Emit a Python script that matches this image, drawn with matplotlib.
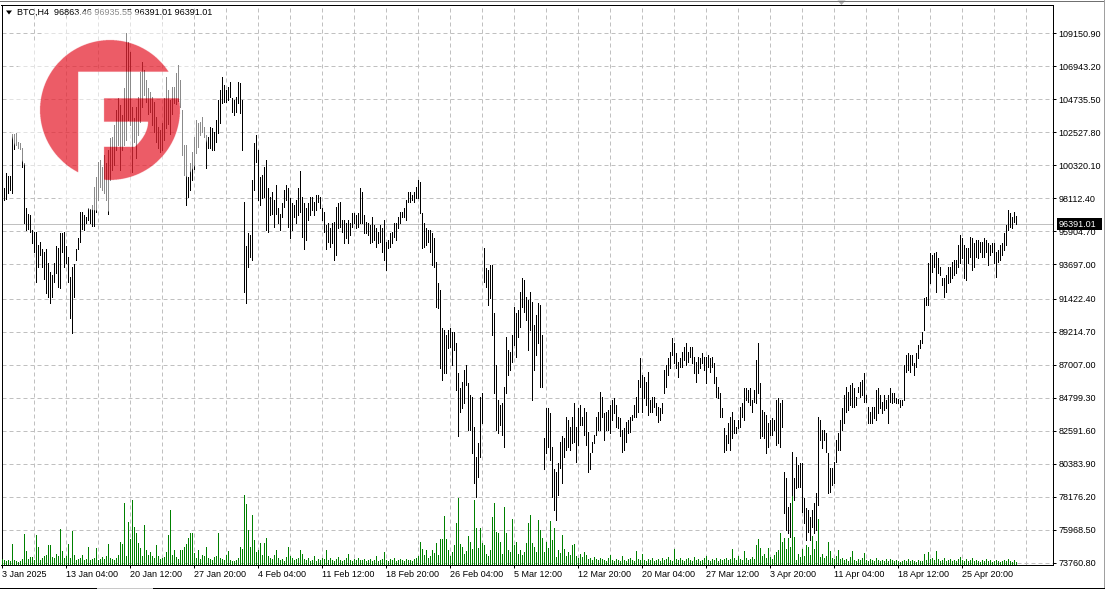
import numpy as np
import matplotlib
matplotlib.use("Agg")
import matplotlib.pyplot as plt
from matplotlib.patches import Rectangle, Polygon

# ---------------- data (BTC H4 bars, prices in thousand USD) ----------------
high_k = [
    98.9, 98.8, 99.8, 99.6, 99.6, 102.4, 102.4, 102.5, 101.9, 101.8,
    101.5, 100.5, 97.5, 97.1, 97.0, 96.0, 95.9, 95.9, 95.0, 95.2,
    94.7, 94.5, 94.7, 93.8, 93.2, 93.0, 93.8, 94.9, 94.8, 95.8,
    95.8, 95.9, 94.9, 94.2, 92.85, 93.5, 93.7, 94.7, 95.5, 97.2,
    97.2, 97.0, 96.9, 97.5, 97.4, 97.7, 98.9, 99.55, 100.55, 100.7,
    100.2, 101.0, 100.5, 101.35, 102.15, 102.2, 103.0, 104.0, 104.8, 104.35,
    103.7, 105.5, 109.2, 108.55, 107.9, 104.2, 103.5, 104.2, 104.9, 106.55,
    107.2, 106.7, 106.0, 105.5, 105.2, 104.9, 104.55, 103.55, 102.9, 102.7,
    103.15, 104.8, 106.2, 105.35, 104.7, 105.55, 105.55, 106.5, 107.0, 106.0,
    104.0, 101.7, 101.7, 99.55, 100.5, 101.2, 102.2, 103.35, 103.15, 103.2,
    103.55, 102.9, 102.35, 102.2, 102.9, 102.8, 102.55, 103.35, 104.7, 105.35,
    106.2, 105.7, 105.35, 105.55, 105.9, 104.8, 104.7, 104.9, 105.9, 105.85,
    104.7, 97.9, 94.9, 95.8, 95.7, 99.35, 101.8, 102.35, 101.35, 99.55,
    99.7, 100.2, 100.7, 98.8, 98.2, 98.55, 98.0, 99.0, 97.5, 97.1,
    97.8, 98.7, 99.0, 98.8, 98.15, 97.8, 97.7, 98.0, 98.8, 99.95,
    98.2, 97.8, 97.5, 97.8, 98.2, 98.2, 97.9, 98.35, 98.35, 98.2,
    97.5, 97.2, 96.35, 96.5, 96.15, 96.5, 96.55, 97.55, 97.8, 97.9,
    96.7, 96.7, 96.5, 96.7, 96.5, 97.15, 97.15, 97.0, 97.15, 98.8,
    98.55, 97.0, 96.55, 96.5, 96.35, 96.85, 96.35, 96.15, 95.9, 96.35,
    96.15, 96.7, 95.2, 95.35, 95.8, 95.9, 96.5, 96.5, 96.85, 97.2,
    97.2, 97.5, 98.0, 98.55, 98.55, 98.35, 98.55, 98.9, 99.35, 99.2,
    97.15, 96.5, 96.15, 96.0, 96.0, 95.8, 95.5, 93.85, 92.45, 92.0,
    89.45, 89.3, 89.0, 89.3, 89.45, 89.2, 89.2, 88.45, 86.45, 85.45,
    85.85, 86.65, 87.0, 85.8, 85.0, 84.85, 82.85, 80.8, 81.75, 84.85,
    85.1, 94.8, 93.45, 93.3, 93.65, 93.65, 90.45, 86.95, 84.65, 84.3,
    84.45, 85.5, 88.85, 88.0, 87.85, 89.0, 90.85, 90.45, 90.65, 91.85,
    92.8, 92.65, 91.5, 91.3, 91.85, 91.2, 89.65, 90.3, 91.1, 91.0,
    89.0, 82.1, 84.1, 84.1, 83.75, 81.5, 80.0, 79.85, 80.45, 81.85,
    82.2, 82.1, 83.5, 83.3, 82.8, 83.5, 84.45, 82.8, 84.1, 84.3,
    83.5, 84.1, 83.85, 82.5, 81.1, 81.85, 82.3, 83.5, 83.85, 85.2,
    84.85, 83.75, 83.85, 84.0, 84.3, 84.65, 84.75, 84.3, 83.5, 83.45,
    82.65, 82.75, 83.15, 83.3, 83.5, 83.65, 84.3, 84.85, 85.95, 87.45,
    86.3, 86.2, 85.85, 86.5, 84.65, 84.85, 84.85, 84.45, 84.15, 84.1,
    84.45, 86.65, 86.95, 87.45, 87.85, 88.8, 88.45, 87.8, 87.2, 87.45,
    87.85, 88.2, 88.45, 87.85, 88.2, 88.2, 87.5, 87.2, 87.5, 87.45,
    87.8, 87.5, 87.5, 87.65, 87.45, 87.5, 87.1, 86.2, 85.5, 85.1,
    84.1, 82.75, 82.3, 83.1, 83.5, 83.85, 83.3, 82.85, 83.3, 84.15,
    84.45, 85.45, 85.45, 85.3, 85.45, 84.65, 85.3, 87.3, 88.45, 85.8,
    84.0, 83.85, 83.65, 83.1, 83.3, 83.45, 83.3, 84.65, 84.75, 84.45,
    84.65, 79.8, 79.45, 77.5, 77.75, 81.15, 79.45, 80.8, 80.3, 80.4,
    80.4, 78.1, 77.4, 77.3, 76.8, 77.3, 77.75, 78.4, 83.5, 83.3,
    82.65, 82.65, 82.45, 81.1, 80.1, 80.1, 80.5, 81.95, 82.45, 83.3,
    84.1, 84.95, 85.5, 85.2, 85.65, 85.8, 85.45, 84.85, 85.5, 85.85,
    86.0, 86.45, 84.95, 84.15, 83.85, 84.15, 84.15, 85.3, 85.45, 84.95,
    84.5, 84.95, 84.65, 84.95, 85.45, 85.1, 85.1, 84.75, 84.7, 84.65,
    84.65, 86.95, 87.65, 87.8, 87.65, 87.65, 87.1, 87.8, 88.3, 88.65,
    89.2, 91.45, 91.5, 93.8, 94.45, 94.35, 94.45, 94.55, 94.15, 93.5,
    92.8, 92.8, 93.0, 93.5, 93.5, 93.85, 94.0, 94.0, 95.0, 95.65,
    95.45, 95.0, 94.8, 94.8, 95.55, 95.45, 95.1, 95.3, 95.3, 95.2,
    95.2, 95.45, 95.3, 95.1, 95.0, 95.1, 95.1, 94.55, 94.65, 95.0,
    95.1, 95.8, 96.35, 97.35, 97.15, 96.85, 97.2, 96.94,
]
low_k = [
    97.8, 98.0, 98.1, 98.5, 98.7, 98.5, 101.4, 101.7, 101.5, 101.4,
    100.2, 96.5, 96.0, 96.1, 95.9, 95.1, 94.5, 92.5, 93.5, 94.3,
    93.5, 92.7, 91.8, 91.5, 91.1, 91.5, 92.5, 93.1, 92.2, 92.1,
    94.5, 93.5, 93.8, 92.5, 90.1, 89.1, 91.5, 94.0, 94.7, 95.2,
    96.1, 96.0, 96.5, 96.7, 96.5, 96.3, 96.3, 97.2, 98.0, 98.9,
    98.7, 98.5, 98.0, 97.1, 99.35, 100.0, 100.35, 101.35, 101.7, 100.0,
    101.35, 101.7, 102.0, 103.35, 103.0, 99.9, 101.9, 100.8, 102.35, 103.2,
    104.2, 105.0, 104.55, 103.75, 103.9, 103.0, 102.55, 101.9, 101.5, 101.2,
    101.35, 102.0, 102.8, 103.1, 102.4, 103.75, 104.5, 104.4, 104.6, 104.2,
    101.0, 99.7, 97.7, 98.2, 98.7, 99.35, 100.1, 101.15, 101.55, 102.35,
    102.55, 102.2, 100.15, 101.5, 101.5, 101.35, 101.35, 101.9, 102.5, 103.15,
    104.5, 104.55, 104.55, 104.7, 104.9, 103.9, 103.7, 103.9, 104.5, 103.8,
    101.35, 91.85, 91.1, 93.5, 94.2, 94.0, 98.7, 100.55, 98.0, 97.7,
    98.15, 98.2, 96.0, 95.9, 97.0, 97.1, 96.2, 97.1, 96.5, 96.0,
    96.85, 97.55, 98.0, 96.2, 95.5, 96.0, 96.85, 96.5, 97.0, 97.2,
    95.55, 94.7, 95.3, 96.65, 97.0, 97.35, 97.0, 97.35, 97.9, 97.5,
    96.65, 95.85, 94.7, 95.2, 94.85, 95.15, 94.0, 94.35, 96.15, 96.2,
    95.85, 95.15, 95.5, 95.15, 95.7, 96.2, 96.5, 96.15, 96.2, 96.5,
    96.5, 95.8, 95.8, 95.7, 95.15, 95.2, 95.35, 94.85, 95.15, 95.2,
    94.5, 94.0, 93.3, 94.8, 94.85, 95.15, 95.55, 95.35, 96.15, 96.5,
    96.85, 96.85, 96.65, 97.9, 97.9, 98.0, 97.9, 98.15, 98.15, 97.15,
    94.8, 94.85, 95.0, 95.2, 94.5, 93.65, 93.5, 90.85, 90.8, 86.8,
    86.0, 86.45, 86.45, 88.1, 88.2, 87.0, 88.0, 85.3, 82.2, 83.85,
    84.1, 84.45, 85.65, 82.6, 82.6, 81.1, 79.1, 78.15, 79.5, 80.8,
    83.1, 92.5, 92.2, 91.0, 91.45, 89.0, 85.1, 82.6, 82.45, 82.95,
    82.3, 81.5, 85.1, 86.3, 86.65, 87.2, 88.3, 87.5, 88.85, 89.5,
    90.85, 90.5, 90.0, 88.0, 89.3, 84.65, 86.65, 87.65, 88.45, 85.5,
    85.5, 80.0, 81.1, 81.5, 80.65, 78.15, 77.3, 76.6, 78.3, 80.1,
    79.1, 80.8, 81.3, 81.5, 81.3, 81.75, 81.85, 80.5, 81.65, 82.95,
    82.95, 82.3, 81.65, 79.85, 80.0, 81.15, 81.75, 82.3, 82.65, 82.65,
    83.5, 81.95, 82.65, 82.65, 82.45, 83.3, 83.75, 82.85, 82.75, 82.2,
    81.15, 81.3, 81.85, 82.45, 82.5, 83.3, 83.5, 83.5, 83.85, 85.5,
    83.85, 84.75, 84.3, 83.65, 83.85, 83.85, 84.15, 83.65, 83.15, 83.3,
    83.75, 85.1, 85.5, 86.3, 86.8, 87.65, 87.1, 86.8, 86.2, 86.85,
    86.85, 87.3, 86.95, 87.2, 87.5, 87.1, 86.45, 85.85, 86.45, 86.8,
    87.1, 86.65, 85.8, 86.85, 86.5, 86.85, 85.8, 84.85, 84.75, 83.5,
    83.5, 81.15, 81.3, 81.75, 81.3, 82.1, 82.45, 82.45, 82.75, 82.85,
    83.5, 83.3, 84.65, 84.5, 84.3, 83.85, 84.5, 84.45, 85.1, 82.1,
    82.2, 82.1, 81.1, 81.5, 82.3, 82.3, 82.65, 81.65, 81.75, 81.5,
    82.85, 77.1, 75.95, 75.75, 75.5, 77.4, 77.95, 78.75, 78.8, 78.8,
    77.15, 76.4, 75.3, 75.8, 75.3, 76.15, 75.75, 75.95, 77.6, 81.95,
    81.45, 81.95, 81.15, 78.4, 78.5, 78.95, 79.1, 80.5, 81.3, 81.3,
    82.65, 83.1, 83.85, 83.95, 84.3, 84.15, 84.15, 84.3, 85.2, 84.85,
    84.95, 84.5, 84.5, 83.1, 83.1, 83.1, 83.45, 83.3, 83.75, 84.1,
    83.75, 83.95, 84.1, 83.1, 84.5, 84.45, 84.5, 84.45, 84.45, 84.15,
    84.3, 84.65, 86.5, 86.65, 86.5, 87.0, 86.3, 86.85, 87.45, 88.1,
    88.45, 89.3, 91.0, 91.0, 92.45, 93.2, 93.5, 91.85, 93.1, 93.0,
    92.3, 91.5, 91.85, 92.45, 92.5, 92.8, 93.0, 93.15, 93.5, 93.8,
    94.15, 92.8, 92.65, 93.8, 94.2, 93.3, 93.5, 94.2, 94.15, 94.5,
    94.2, 94.2, 94.5, 93.65, 94.3, 94.5, 93.8, 92.85, 93.85, 94.0,
    94.3, 94.65, 95.0, 96.0, 96.2, 96.15, 96.55, 96.39,
]
volume = [
    5, 4, 3, 4, 3, 20, 4, 3, 2, 3, 5, 30, 13, 5, 7, 7, 4, 29, 17, 4,
    6, 8, 9, 19, 19, 7, 6, 10, 8, 35, 13, 6, 8, 20, 6, 33, 9, 4, 5, 6,
    9, 4, 5, 17, 4, 5, 6, 16, 4, 5, 7, 5, 8, 20, 6, 5, 4, 6, 9, 22,
    20, 61, 8, 42, 25, 64, 37, 31, 21, 16, 8, 39, 14, 9, 12, 8, 6, 19, 8, 5,
    6, 7, 12, 29, 54, 9, 14, 7, 5, 14, 14, 17, 20, 26, 31, 31, 11, 6, 14, 5,
    9, 8, 17, 6, 5, 4, 7, 8, 31, 6, 5, 4, 9, 13, 4, 3, 3, 4, 6, 17,
    15, 69, 60, 34, 17, 49, 24, 12, 14, 21, 9, 21, 26, 8, 6, 5, 9, 14, 6, 4,
    5, 3, 7, 17, 8, 6, 4, 5, 6, 14, 10, 5, 4, 6, 3, 4, 8, 3, 5, 4,
    6, 5, 14, 4, 6, 4, 3, 5, 7, 4, 3, 4, 6, 10, 4, 3, 5, 4, 6, 4,
    4, 5, 3, 4, 5, 3, 4, 8, 3, 4, 5, 12, 4, 3, 5, 4, 6, 3, 4, 5,
    4, 3, 5, 4, 4, 3, 5, 6, 8, 22, 15, 9, 14, 6, 8, 14, 11, 21, 9, 25,
    25, 48, 25, 14, 8, 12, 19, 41, 66, 20, 17, 10, 13, 28, 22, 15, 64, 36, 16, 36,
    21, 19, 10, 8, 14, 47, 61, 32, 31, 22, 10, 57, 31, 14, 12, 45, 19, 22, 10, 14,
    9, 12, 21, 41, 49, 21, 17, 12, 44, 34, 26, 12, 22, 16, 43, 24, 36, 7, 14, 11,
    29, 15, 8, 12, 9, 19, 20, 8, 6, 10, 7, 12, 9, 5, 6, 4, 7, 5, 4, 6,
    5, 4, 3, 6, 9, 4, 3, 5, 4, 3, 8, 4, 3, 5, 6, 4, 3, 13, 5, 4,
    10, 4, 3, 5, 4, 6, 3, 4, 5, 3, 6, 4, 5, 7, 4, 3, 15, 5, 4, 6,
    4, 3, 5, 6, 4, 3, 7, 4, 5, 3, 4, 6, 8, 4, 3, 5, 4, 6, 3, 5,
    4, 5, 6, 4, 5, 15, 6, 4, 8, 5, 4, 13, 6, 4, 5, 7, 5, 19, 25, 16,
    8, 10, 6, 16, 7, 5, 9, 12, 14, 31, 22, 26, 15, 26, 17, 68, 27, 4, 10, 7,
    15, 8, 19, 17, 9, 28, 15, 23, 45, 7, 10, 6, 8, 22, 13, 6, 5, 8, 14, 5,
    6, 4, 5, 3, 7, 13, 4, 3, 5, 4, 6, 11, 4, 3, 5, 4, 3, 6, 4, 3,
    4, 3, 5, 3, 5, 4, 3, 4, 3, 2, 3, 4, 3, 5, 3, 4, 3, 2, 4, 3,
    3, 10, 4, 12, 5, 6, 4, 13, 5, 3, 4, 6, 3, 4, 5, 3, 4, 3, 5, 7,
    4, 3, 5, 3, 4, 6, 3, 4, 3, 2, 4, 3, 5, 3, 4, 2, 3, 4, 3, 2,
    3, 4, 3, 5, 3, 2, 4, 2,
]
price_ticks = [73760.80, 75968.50, 78176.20, 80383.90, 82591.60, 84799.30,
               87007.00, 89214.70, 91422.40, 93697.00, 95904.70, 98112.40,
               100320.10, 102527.80, 104735.50, 106943.20, 109150.90]
date_labels = ["3 Jan 2025", "13 Jan 04:00", "20 Jan 12:00", "27 Jan 20:00",
               "4 Feb 04:00", "11 Feb 12:00", "18 Feb 20:00", "26 Feb 04:00",
               "5 Mar 12:00", "12 Mar 20:00", "20 Mar 04:00", "27 Mar 12:00",
               "3 Apr 20:00", "11 Apr 04:00", "18 Apr 12:00", "25 Apr 20:00"]
header = "BTC,H4  96863.46 96935.55 96391.01 96391.01"
last_price = 96391.01

# ---------------- figure ----------------
W, H = 1105, 589
DPI = 100
PX = 72.0 / DPI
FONT = ['Liberation Sans', 'DejaVu Sans']
plt.rcParams['font.family'] = FONT

fig = plt.figure(figsize=(W / DPI, H / DPI), dpi=DPI)
fig.patch.set_facecolor('white')


def frac(x0, y0, x1, y1):
    return [x0 / W, 1 - y1 / H, (x1 - x0) / W, (y1 - y0) / H]


ax = fig.add_axes(frac(1.5, 4.7, 1053.3, 565.3))
n = len(high_k)
idx = np.arange(n)
high = np.array(high_k) * 1000.0
low = np.array(low_k) * 1000.0
vol = np.array(volume, dtype=float)

ax.set_xlim(-0.4, 525.5)
ax.set_ylim(73587, 111063)

grid_kw = dict(color='#c0c0c0', lw=PX, ls=(0, (4, 3)), zorder=0)
for p in price_ticks:
    ax.axhline(p, **grid_kw)
for g in range(16, 526, 16):
    ax.axvline(g, **grid_kw)
ax.axhline(last_price, color='#c0c0c0', lw=PX, zorder=0.5)

ax.vlines(idx, low, high, colors='black', lw=PX, antialiased=False, zorder=2)

axv = ax.twinx()
axv.set_ylim(-1.3, 559.3)
axv.vlines(idx, 0, vol, colors='#008000', lw=PX, antialiased=False)
axv.set_yticks([])
axv.tick_params(right=False, labelright=False)
for s in axv.spines.values():
    s.set_visible(False)

ax.yaxis.tick_right()
ax.set_yticks(price_ticks)
ax.set_yticklabels([f"{p:.2f}" for p in price_ticks])
ax.tick_params(axis='y', direction='out', length=3 * PX, width=PX,
               pad=2.5 * PX, labelsize=6.5, colors='black')
ax.set_xticks(np.arange(len(date_labels)) * 32)
ax.set_xticklabels(date_labels)
ax.tick_params(axis='x', direction='out', length=3 * PX, width=PX,
               pad=2 * PX, labelsize=6.5, colors='black')
for t in ax.get_xticklabels():
    t.set_ha('left')
for s in ax.spines.values():
    s.set_linewidth(PX)
    s.set_color('black')

# ---------------- overlay (pixel coordinates) ----------------
ov = fig.add_axes([0, 0, 1, 1])
ov.set_xlim(0, W)
ov.set_ylim(H, 0)
ov.axis('off')
ov.set_zorder(10)
ov.patch.set_alpha(0)

# header
ov.add_patch(Polygon([(6, 10.5), (12, 10.5), (9, 14.5)], closed=True,
                     color='black', lw=0, zorder=3))
ov.text(17, 12.5, header, fontsize=6.5, va='center', ha='left',
        color='black', zorder=3)

# current price label
y_disp = ax.transData.transform((0, last_price))[1]
y_px = H - y_disp * (H / fig.bbox.height)
ov.add_patch(Rectangle((1056.5, y_px - 6.5), 45, 12.5, color='black',
                       lw=0, zorder=4))
ov.text(1059, y_px, f"{last_price:.2f}", color='white', fontsize=6.5,
        va='center', ha='left', zorder=4.5)

# MT4 shift marker
ov.add_patch(Polygon([(837.5, 0.5), (845.5, 0.5), (841.5, 5)], closed=True,
                     color='#b0b0b0', lw=0, zorder=4))

# window borders
ov.plot([0, W], [0.5, 0.5], color='#707070', lw=PX, zorder=4)
ov.plot([W - 1.5, W - 1.5], [0, H], color='#a0a0a0', lw=PX, zorder=4)
ov.plot([0, 97], [587.5, 587.5], color='black', lw=PX, zorder=4)
ov.plot([97, 153], [587.5, 587.5], color='#c8c8c8', lw=PX, zorder=4)
ov.plot([153, W], [587.5, 587.5], color='black', lw=PX, zorder=4)

# watermark logo
S = 4
size = 224
yy, xx = np.mgrid[0:size * S, 0:size * S]
xx = (xx + 0.5) / S
yy = (yy + 0.5) / S
cx, cy = 110.0, 110.0
r = np.hypot(xx - cx, yy - cy)
halo = r <= 101.5
circle = r <= 70.0
white_top = (yy >= 71.7) & (yy <= 98.3) & (xx >= 78.3)
white_stem = (xx >= 78.3) & (xx <= 104.0) & (yy >= 71.7)
right_edge = 148.0 - 13.0 * ((yy - 121.7) / 25.0) ** 2
lower_band = (yy >= 121.7) & (yy <= 146.7) & (xx >= 104.0) & (xx <= right_edge)
red = circle & ~white_top & ~white_stem & ~lower_band
rgba = np.ones((size * S, size * S, 4))
rgba[..., 3] = 0.0
rgba[halo] = [1.0, 1.0, 1.0, 0.55]
rgba[red] = [230 / 255, 40 / 255, 55 / 255, 0.76]
ov.imshow(rgba, extent=(0, size, size, 0), interpolation='antialiased',
          interpolation_stage='rgba', zorder=5)
ov.set_xlim(0, W)
ov.set_ylim(H, 0)

fig.savefig("out.png", dpi=DPI, facecolor='white')
